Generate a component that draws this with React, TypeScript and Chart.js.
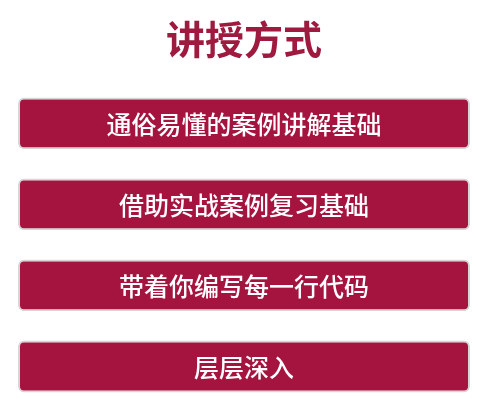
import React, { useEffect, useRef } from 'react';
import { Chart, registerables, Plugin } from 'chart.js';
Chart.register(...registerables);

const title = '讲授方式';
const items = ['通俗易懂的案例讲解基础', '借助实战案例复习基础', '带着你编写每一行代码', '层层深入'];
const values = [1, 1, 1, 1];

const font = '"Noto Sans CJK SC", "Noto Sans", sans-serif';

// 把每条的文字写在条的正中
const labelPlugin: Plugin<'bar'> = {
  id: 'barLabels',
  afterDatasetsDraw(chart) {
    const ctx = chart.ctx;
    const meta = chart.getDatasetMeta(0);
    ctx.save();
    ctx.fillStyle = '#ffffff';
    ctx.font = `500 25px ${font}`;
    ctx.textAlign = 'center';
    ctx.textBaseline = 'middle';
    const area = chart.chartArea;
    meta.data.forEach((bar, i) => {
      ctx.fillText(items[i], (area.left + area.right) / 2, bar.y + 1);
    });
    ctx.restore();
  },
};

const App = () => {
  const canvasRef = useRef<HTMLCanvasElement | null>(null);

  useEffect(() => {
    document.body.style.margin = '0';
    if (!canvasRef.current) return;
    const chart = new Chart(canvasRef.current, {
      type: 'bar',
      data: {
        labels: items,
        datasets: [{
          data: values,
          backgroundColor: '#a5143f',
          borderColor: '#d6d6d6',
          borderWidth: 2,
          borderRadius: 6,
          borderSkipped: false,
          barPercentage: 0.64,
          categoryPercentage: 1,
        }],
      },
      options: {
        indexAxis: 'y',
        animation: false,
        responsive: false,
        layout: { padding: { left: 18, right: 23, bottom: 0 } },
        scales: {
          x: { display: false, min: 0, max: 1 },
          y: { display: false },
        },
        plugins: {
          legend: { display: false },
          tooltip: { enabled: false },
          title: {
            display: true,
            text: title,
            color: '#9e1a3f',
            font: { family: font, size: 39, weight: 'bold' },
            padding: { top: 16, bottom: 20 },
          },
        },
      },
      plugins: [labelPlugin],
    });
    return () => chart.destroy();
  }, []);

  return <canvas ref={canvasRef} width={493} height={407} style={{ display: 'block', background: '#fff' }} />;
};

export default App;
